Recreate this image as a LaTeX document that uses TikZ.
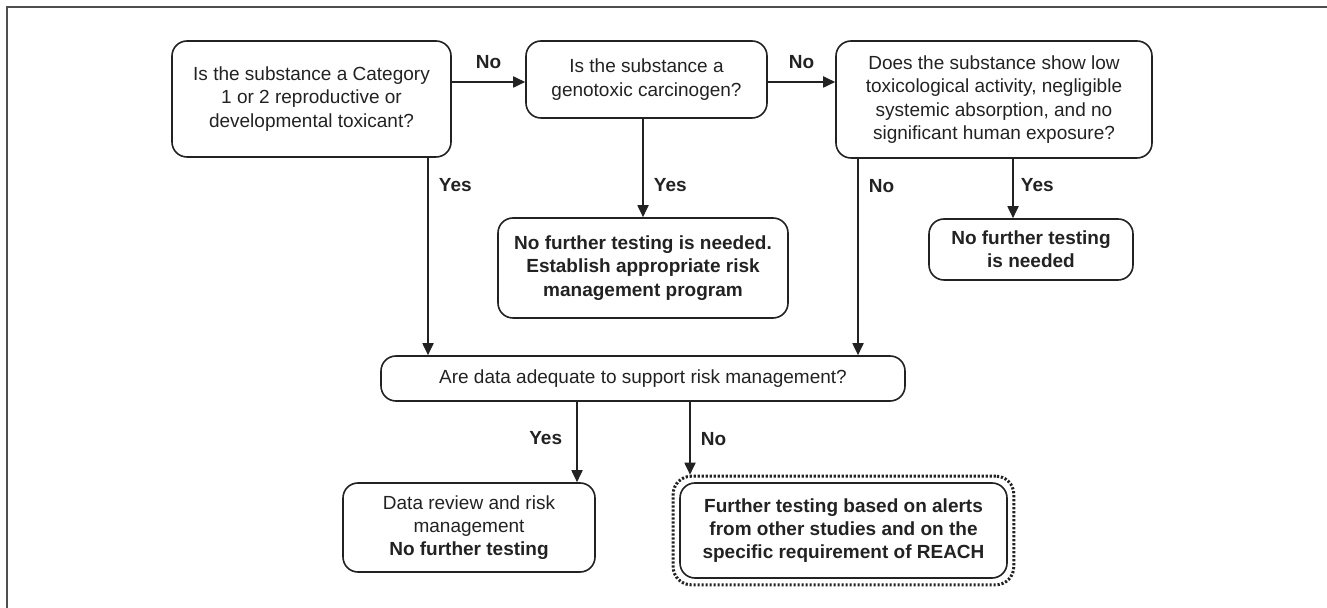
\documentclass[tikz,border=0pt]{standalone}
\usepackage{fontspec}
\setmainfont{Liberation Sans}
\usetikzlibrary{arrows.meta,fit}
\definecolor{ink}{HTML}{222222}
\begin{document}
\begin{tikzpicture}[x=0.5pt, y=-0.5pt,
        box/.style={draw=ink, rounded corners=7.5pt, line width=0.8pt, align=center, text=ink, inner sep=2pt, font=\fontsize{9.5}{11.6}\selectfont},
        lbl/.style={text=ink, inner sep=0pt, font=\fontsize{9.5}{11.6}\selectfont\bfseries},
        arr/.style={draw=ink, line width=0.9pt, -{Triangle[length=6pt, width=5.5pt]}}]
    \useasboundingbox (0,0) rectangle (1327,608);
    \draw[ink!80, line width=1pt] (7,608) -- (7,7) -- (1327,7);
    % questions
    \node[box, minimum width=139.5pt, minimum height=58pt] (q1) at (311.5, 99) {Is the substance a Category\\1 or 2 reproductive or\\developmental toxicant?};
    \node[box, minimum width=120.5pt, minimum height=38.5pt] (q2) at (646.5, 79.5) {Is the substance a\\genotoxic carcinogen?};
    \node[box, minimum width=158pt, minimum height=58.5pt] (q3) at (994, 99.5) {Does the substance show low\\toxicological activity, negligible\\systemic absorption, and no\\significant human exposure?};
    \node[box, minimum width=262pt, minimum height=22.5pt] (q4) at (643, 378.5) {Are data adequate to support risk management?};
    % outcomes
    \node[box, font=\fontsize{9.5}{11.6}\selectfont\bfseries, minimum width=145pt, minimum height=50pt] (stop1) at (643, 268) {No further testing is needed.\\Establish appropriate risk\\management program};
    \node[box, font=\fontsize{9.5}{11.6}\selectfont\bfseries, minimum width=102pt, minimum height=30.5pt] (stop2) at (1031, 249.5) {No further testing\\is needed};
    \node[box, minimum width=126pt, minimum height=44.5pt] (done) at (469, 527.5) {Data review and risk\\management\\\textbf{No further testing}};
    \node[box, font=\fontsize{9.5}{11.6}\selectfont\bfseries, minimum width=163.5pt, minimum height=47.5pt] (test) at (843.5, 530.5) {Further testing based on alerts\\from other studies and on the\\specific requirement of REACH};
    \node[draw=ink, line width=1.5pt, dash pattern=on 1.1pt off 0.9pt, rounded corners=9pt, fit=(test), inner sep=3pt] (testout) {};
    \coordinate (ya) at (428,0);
    \coordinate (cn) at (858,0);
    \coordinate (cy) at (1013,0);
    \coordinate (fy) at (577,0);
    \coordinate (fn) at (690,0);
    % arrows
    \draw[arr] (q1.east |- 0,82) -- node[lbl, above=6pt] {No} (q2.west |- 0,82);
    \draw[arr] (q2.east |- 0,82) -- node[lbl, above=6pt] {No} (q3.west |- 0,82);
    \draw[arr] (q1.south -| ya) -- node[lbl, pos=.14, right=5pt] {Yes} (q4.north -| ya);
    \draw[arr] (q2.south -| stop1.north) -- node[lbl, pos=.67, right=5pt] {Yes} (stop1.north);
    \draw[arr] (q3.south -| cn) -- node[lbl, pos=.14, right=5pt] {No} (q4.north -| cn);
    \draw[arr] (q3.south -| cy) -- node[lbl, pos=.44, right=3.5pt] {Yes} (stop2.north -| cy);
    \draw[arr] (q4.south -| fy) -- node[lbl, pos=.45, left=7pt] {Yes} (done.north -| fy);
    \draw[arr] (q4.south -| fn) -- node[lbl, pos=.51, right=5pt] {No} (testout.north -| fn);
\end{tikzpicture}
\end{document}
